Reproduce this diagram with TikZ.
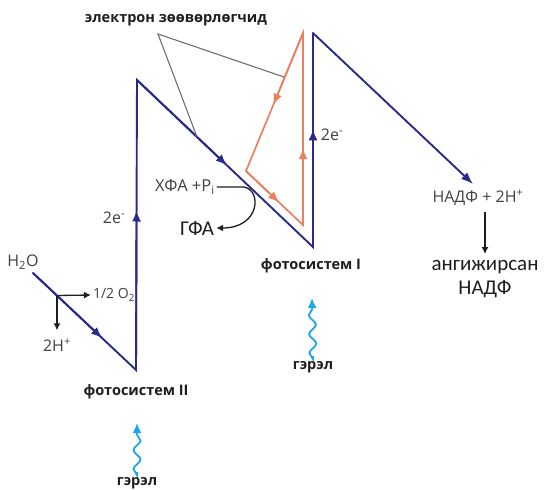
\documentclass[tikz,border=0pt]{standalone}
\usepackage{fontspec}
\setmainfont{Carlito}
\newfontfamily\opensans{Open Sans}
\usetikzlibrary{arrows.meta,decorations.pathmorphing,calc,positioning}
\definecolor{navy1}{RGB}{42,42,140}
\definecolor{salmon1}{RGB}{232,128,98}
\definecolor{grey1}{RGB}{110,110,110}
\definecolor{sky1}{RGB}{30,165,235}
\definecolor{ink1}{RGB}{30,30,30}
\definecolor{text1}{RGB}{65,65,65}

\begin{document}
\begin{tikzpicture}[x=1pt,y=-1pt,
    chain/.style={draw=navy1, line width=1.9pt, line cap=round},
    cycle/.style={draw=salmon1, line width=1.7pt, line cap=round},
    tip/.style={-{Latex[length=11pt,width=9pt]}},
    pointer/.style={draw=grey1, line width=1.1pt},
    blackarrow/.style={draw=ink1, line width=1.3pt, -{Latex[length=7pt,width=7pt]}},
    light/.style={draw=sky1, line width=1.8pt, -{Latex[length=10pt,width=9pt]}, decorate,
      decoration={snake, amplitude=3.5pt, segment length=19pt, post length=8pt}},
    boldlabel/.style={font=\opensans\bfseries\fontsize{14.5}{16}\selectfont, text=ink1, inner sep=2pt},
    chem/.style={font=\opensans\fontsize{16}{18}\selectfont, text=text1, inner sep=2pt},
    small/.style={font=\opensans\fontsize{14}{16}\selectfont, text=text1, inner sep=2pt},
    big/.style={font=\fontsize{21}{25}\selectfont, text=ink1, inner sep=2pt}
]

    \useasboundingbox (0,0) rectangle (547,490);

    % labels
    \node[boldlabel] (carrier) at (176,20) {электрон зөөвөрлөгчид};
    \node[chem] (water) at (23,262) {H\textsubscript{2}O};
    \node[small] (oxygen) at (114,295) {1/2 O\textsubscript{2}};
    \node[chem] (protons) at (57,345) {2H\textsuperscript{+}};
    \node[chem] (eII) at (114,218) {2e\textsuperscript{-}};
    \node[chem] (eI) at (332,135) {2e\textsuperscript{-}};
    \node[small,font=\opensans\fontsize{16.5}{18}\selectfont,text=ink1!85] (adp) at (185,187) {ХФА +P\textsubscript{i}};
    \node[big] (atp) at (197,228) {ГФА};
    \node[boldlabel] (psI) at (311,266) {фотосистем I};
    \node[boldlabel] (psII) at (136,392) {фотосистем II};
    \node[boldlabel] (lightI) at (313,367) {гэрэл};
    \node[boldlabel] (lightII) at (137,483) {гэрэл};
    \node[chem] (nadp) at (478,198) {НАДФ + 2H\textsuperscript{+}};
    \node[big, align=center, font=\fontsize{21}{24}\selectfont] (nadph) at (485,279) {ангижирсан\\НАДФ};

    % corner points of the Z-scheme
    \coordinate (h2o) at (33,273);
    \coordinate (bottomII) at (136,370);
    \coordinate (topII) at (137,80);
    \coordinate (bottomI) at (313,247);
    \coordinate (topI) at (313,33);
    \coordinate (nadpin) at (473,184);
    \coordinate (split) at (57,295.5);
    \coordinate (cyctop) at (303,33);
    \coordinate (cycleft) at (246,171);
    \coordinate (cycbot) at (303,225);
    \coordinate (apex) at (158,34);
    \coordinate (tipA) at (284,77);
    \coordinate (tipB) at (197,137);
    \coordinate (sunII) at (137,423);
    \coordinate (sunI) at (312,298);

    % non-cyclic flow
    \draw[chain] (h2o) -- (bottomII) -- (topII) -- (bottomI) -- (topI);
    \draw[chain, tip] (h2o) -- ($(h2o)!0.67!(bottomII)$);
    \draw[chain, tip] (bottomII) -- ($(bottomII)!0.55!(topII)$);
    \draw[chain, tip] (topII) -- ($(topII)!0.51!(bottomI)$);
    \draw[chain, tip] (bottomI) -- ($(bottomI)!0.55!(topI)$);
    \draw[chain, -{Latex[length=12pt,width=9pt]}] (topI) -- (nadpin);

    % cyclic flow
    \draw[cycle] (cyctop) -- (cycleft) -- (cycbot) -- cycle;
    \draw[cycle, tip] (cyctop) -- ($(cyctop)!0.52!(cycleft)$);
    \draw[cycle, tip] (cycleft) -- ($(cycleft)!0.58!(cycbot)$);
    \draw[cycle, tip] (cycbot) -- ($(cycbot)!0.4!(cyctop)$);

    \draw[pointer] (tipA) -- (apex) -- (tipB);

    \draw[blackarrow] (split) -- (oxygen.west);
    \draw[blackarrow, shorten >=6pt] (split) -- (split |- protons.north);
    \draw[blackarrow] (adp.east) -- ++(27,0) .. controls +(18,3) and +(44,0) .. (atp.east);
    \draw[blackarrow, shorten <=4pt, shorten >=4pt] (nadp.south -| nadph.north) -- (nadph.north);

    \draw[light, shorten <=3pt] (lightII.north) -- (sunII);
    \draw[light, shorten <=3pt] (lightI.north) -- (sunI);

\end{tikzpicture}
\end{document}
